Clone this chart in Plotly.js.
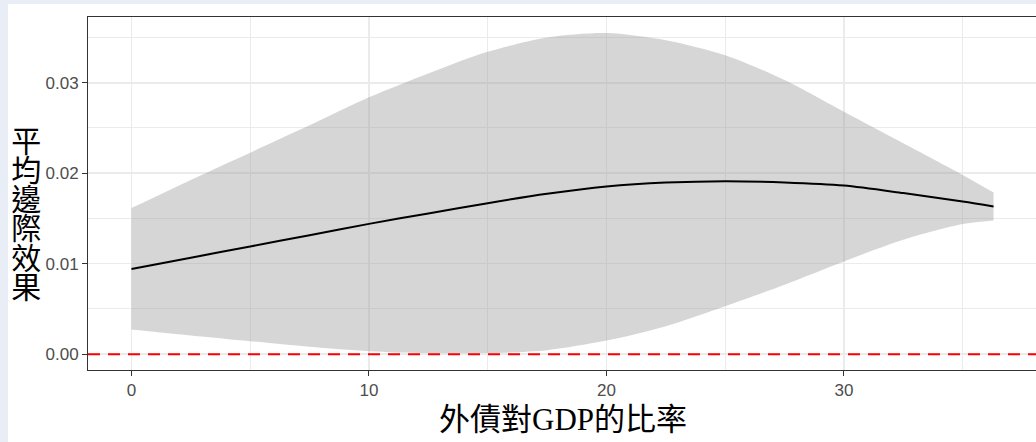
<!DOCTYPE html>
<html>
<head>
<meta charset="utf-8">
<script src="https://cdn.plot.ly/plotly-3.0.1.min.js"></script>
<style>
  html, body { margin: 0; padding: 0; width: 1036px; height: 442px; overflow: hidden; background: #e9eef6; }
  #chart { position: absolute; left: 8px; top: 4px; width: 1032px; height: 438px; background: #ffffff; }
</style>
</head>
<body>
<div id="chart"></div>
<script>
// External debt to GDP ratio (x) and the average marginal effect with its confidence band
const debtRatio = [0, 2.5, 5, 7.5, 10, 12.5, 15, 17.5, 20, 22.5, 25, 27.5, 30, 32.5, 35, 36.3];
const effectMean = [0.00942, 0.01066, 0.0119, 0.01315, 0.0144, 0.01555, 0.01669, 0.01772, 0.01852, 0.01896, 0.01912, 0.01898, 0.01863, 0.0178, 0.01687, 0.01632];
const effectUpper = [0.01614, 0.01926, 0.02227, 0.02529, 0.02838, 0.03102, 0.03341, 0.0350, 0.0355, 0.0347, 0.03304, 0.03029, 0.02679, 0.02331, 0.01981, 0.01786];
const effectLower = [0.00272, 0.00206, 0.00143, 0.00082, 0.00033, 0.00012, 0.00012, 0.00044, 0.0015, 0.00309, 0.00529, 0.00768, 0.01025, 0.01265, 0.01438, 0.01477];
const referenceLevel = 0;

const xTickVals = [0, 10, 20, 30];
const yTickVals = [0.00, 0.01, 0.02, 0.03];
const xTitle = '外債對GDP的比率';
const yTitle = '平均邊際效果';

const gridColor = '#ebebeb';
const axisColor = '#333333';
const tickFont = { family: 'Liberation Sans, Arial, sans-serif', size: 17, color: '#4d4d4d' };
const titleFamily = 'Liberation Serif, Noto Sans CJK TC, serif';

const traces = [
  {
    x: debtRatio, y: effectLower, type: 'scatter', mode: 'lines',
    line: { width: 0, shape: 'spline', smoothing: 0.8 }, hoverinfo: 'skip', showlegend: false
  },
  {
    x: debtRatio, y: effectUpper, type: 'scatter', mode: 'lines',
    fill: 'tonexty', fillcolor: 'rgba(153,153,153,0.4)',
    line: { width: 0, shape: 'spline', smoothing: 0.8 }, hoverinfo: 'skip', showlegend: false
  },
  {
    x: debtRatio, y: effectMean, type: 'scatter', mode: 'lines',
    line: { color: '#000000', width: 2, shape: 'spline', smoothing: 0.8 }, showlegend: false
  }
];

const annotations = [{
  text: xTitle, xref: 'paper', yref: 'paper', x: 0.5, y: -0.139,
  xanchor: 'center', yanchor: 'middle', showarrow: false,
  font: { family: titleFamily, size: 31, color: '#000000' }
}];

const layout = {
  width: 1032, height: 438,
  margin: { l: 80, r: 3, t: 13, b: 72, pad: 0 },
  paper_bgcolor: '#ffffff', plot_bgcolor: '#ffffff',
  showlegend: false,
  xaxis: {
    range: [-1.83, 38.13], tickvals: xTickVals, ticktext: xTickVals.map(String),
    showgrid: true, gridcolor: gridColor, gridwidth: 1.6, zeroline: false,
    minor: { dtick: 5, tick0: 0, showgrid: true, gridcolor: gridColor, gridwidth: 1, ticks: '' },
    showline: true, mirror: true, linecolor: axisColor, linewidth: 1,
    ticks: 'outside', ticklen: 5, tickwidth: 1, tickcolor: axisColor,
    tickfont: tickFont
  },
  yaxis: {
    range: [-0.00175, 0.03726], tickvals: yTickVals, tickformat: '.2f',
    showgrid: true, gridcolor: gridColor, gridwidth: 1.6, zeroline: false,
    minor: { dtick: 0.005, tick0: 0, showgrid: true, gridcolor: gridColor, gridwidth: 1, ticks: '' },
    showline: true, mirror: true, linecolor: axisColor, linewidth: 1,
    ticks: 'outside', ticklen: 5, tickwidth: 1, tickcolor: axisColor,
    tickfont: tickFont
  },
  shapes: [{
    type: 'line', xref: 'paper', x0: 0, x1: 1, yref: 'y', y0: referenceLevel, y1: referenceLevel,
    line: { color: '#ff0000', width: 2, dash: '12px,8px' }, layer: 'above'
  }],
  annotations: annotations
};

Plotly.newPlot('chart', traces, layout, { staticPlot: true, displayModeBar: false }).then(gd => {
  // y-axis title set vertically with upright characters, centred beside the panel
  const layer = gd.querySelector('.infolayer');
  const fl = gd._fullLayout;
  const cx = 15.7;
  const cy = fl.margin.t + fl._size.h * 0.561 - 2;
  const t = document.createElementNS('http://www.w3.org/2000/svg', 'text');
  t.setAttribute('class', 'ytitle-vertical');
  t.setAttribute('x', cx);
  t.setAttribute('y', cy);
  t.setAttribute('text-anchor', 'middle');
  t.setAttribute('style',
    'writing-mode: vertical-rl; text-orientation: upright; font-family: ' + titleFamily +
    '; font-size: 30px; fill: #000000; letter-spacing: -0.8px;');
  t.textContent = yTitle;
  layer.appendChild(t);
});
</script>
</body>
</html>
